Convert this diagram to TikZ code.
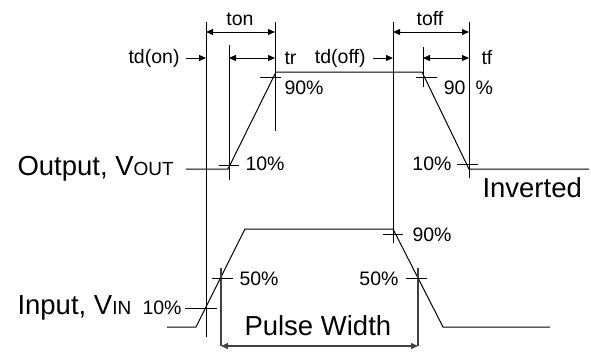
\documentclass[tikz,border=0pt]{standalone}
\usepackage{fontspec}
\setmainfont{Liberation Sans}
\usetikzlibrary{arrows.meta}
\begin{document}
\begin{tikzpicture}[x=1pt,y=-1pt,line width=1pt,
  tip/.style={Triangle[length=7pt,width=6pt]},
  dim/.style={{Triangle[length=7pt,width=6pt]}-{Triangle[length=7pt,width=6pt]}},
  arr/.style={-{Triangle[length=7pt,width=6pt]}},
  pw/.style={line width=1.3pt,draw=black!75},
  big/.style={font=\fontsize{27.5}{30}\selectfont,inner sep=0pt},
  small/.style={font=\fontsize{19.5}{22}\selectfont,inner sep=0pt}]
\useasboundingbox (0,0) rectangle (591,351);
% key points of the output waveform
\coordinate (o0) at (186,169);
\coordinate (o1) at (228,169);
\coordinate (o2) at (276,72);
\coordinate (o3) at (422,72);
\coordinate (o4) at (469,169);
\coordinate (o5) at (589,169);
% key points of the input waveform
\coordinate (i0) at (167,327);
\coordinate (i1) at (196,327);
\coordinate (i2) at (245,229);
\coordinate (i3) at (393,229);
\coordinate (i4) at (443,327);
\coordinate (i5) at (550,327);
% vertical reference lines
\coordinate (vA) at (206,22);  \coordinate (vAb) at (206,337);
\coordinate (vB) at (229,45);  \coordinate (vBb) at (229,180);
\coordinate (vC) at (275,22);  \coordinate (vCb) at (275,131);
\coordinate (vD) at (393,22);  \coordinate (vDb) at (393,243);
\coordinate (vE) at (423,47);  \coordinate (vEb) at (423,87);
\coordinate (vF) at (469,22);  \coordinate (vFb) at (469,178);
\coordinate (vG) at (221,268); \coordinate (vGb) at (221,346);
\coordinate (vH) at (418,268); \coordinate (vHb) at (418,346);
% waveforms
\draw (o0) -- (o1) -- (o2) -- (o3) -- (o4) -- (o5);
\draw (i0) -- (i1) -- (i2) -- (i3) -- (i4) -- (i5);
% verticals
\draw (vA) -- (vAb);
\draw (vB) -- (vBb);
\draw (vC) -- (vCb);
\draw (vD) -- (vDb);
\draw (vE) -- (vEb);
\draw (vF) -- (vFb);
\draw[pw] (vG) -- (vGb);
\draw[pw] (vH) -- (vHb);
% tick marks
\coordinate (t1a) at (219,165); \coordinate (t1b) at (239,165);
\coordinate (t2a) at (260,77);  \coordinate (t2b) at (281,77);
\coordinate (t3a) at (416,77);  \coordinate (t3b) at (437,77);
\coordinate (t4a) at (457,164); \coordinate (t4b) at (478,164);
\coordinate (t5a) at (185,308); \coordinate (t5b) at (217,308);
\coordinate (t6a) at (212,278); \coordinate (t6b) at (233,278);
\coordinate (t7a) at (406,278); \coordinate (t7b) at (427,278);
\coordinate (t8a) at (383,234); \coordinate (t8b) at (403,234);
\draw (t1a) -- (t1b);
\draw (t2a) -- (t2b);
\draw (t3a) -- (t3b);
\draw (t4a) -- (t4b);
\draw (t5a) -- (t5b);
\draw (t6a) -- (t6b);
\draw (t7a) -- (t7b);
\draw (t8a) -- (t8b);
% dimension arrows
\coordinate (ton1) at (206,32);  \coordinate (ton2) at (275,32);
\coordinate (tr1) at (229,58);   \coordinate (tr2) at (275,58);
\coordinate (tdon1) at (186,58); \coordinate (tdon2) at (206,58);
\coordinate (toff1) at (393,32); \coordinate (toff2) at (469,32);
\coordinate (tdoff1) at (373,58); \coordinate (tdoff2) at (393,58);
\coordinate (tf1) at (423,58);   \coordinate (tf2) at (469,58);
\draw[dim] (ton1) -- (ton2);
\draw[dim] (tr1) -- (tr2);
\draw[arr] (tdon1) -- (tdon2);
\draw[dim] (toff1) -- (toff2);
\draw[arr] (tdoff1) -- (tdoff2);
\draw[dim] (tf1) -- (tf2);
\draw[pw,dim] (vGb) -- (vHb);
% labels
\node[small,anchor=base] (lton) at (240,25) {ton};
\node[small,anchor=base] (ltoff) at (430,25) {toff};
\node[small,anchor=east] (ltdon) at (180,58) {td(on)};
\node[small,anchor=east] (ltdoff) at (366,58) {td(off)};
\node[small,anchor=west] (ltr) at (284,58) {tr};
\node[small,anchor=west] (ltf) at (481,58) {tf};
\node[small,anchor=west] (l90a) at (284,88) {90\%};
\node[small,anchor=east] (l90b) at (466,88) {90};
\node[small,anchor=west] (l90c) at (475,88) {\%};
\node[small,anchor=west] (l10a) at (245,164) {10\%};
\node[small,anchor=east] (l10b) at (452,164) {10\%};
\node[small,anchor=west] (l90d) at (412,235) {90\%};
\node[small,anchor=west] (l50a) at (239,279) {50\%};
\node[small,anchor=east] (l50b) at (399,279) {50\%};
\node[small,anchor=west] (l10c) at (142,308) {10\%};
\node[big,anchor=base west] (lout) at (17,175) {Output, V{\fontsize{19}{20}\selectfont OUT}};
\node[big,anchor=base west] (lin) at (17,314) {Input, V{\fontsize{19}{20}\selectfont IN}};
\node[big,anchor=base west] (linv) at (482,197) {Inverted};
\node[big,anchor=base west] (lpw) at (244,335) {Pulse Width};
\end{tikzpicture}
\end{document}
